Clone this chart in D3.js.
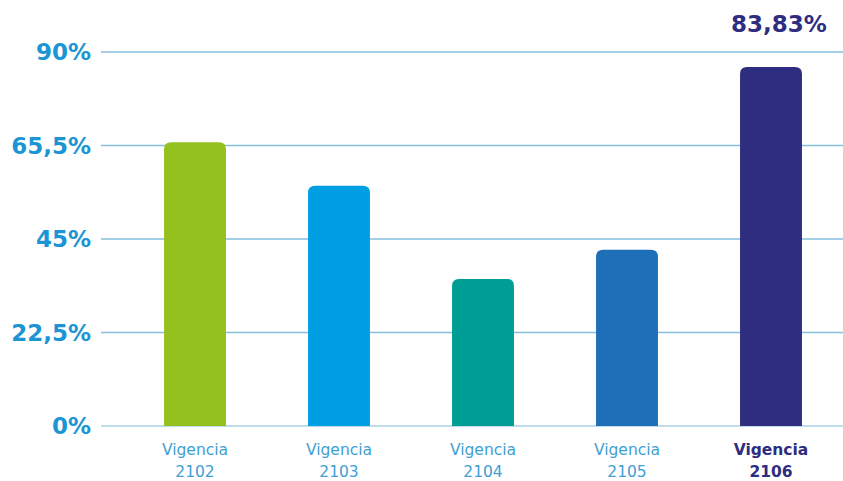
<!DOCTYPE html>
<html>
<head>
<meta charset="utf-8">
<script src="https://cdn.jsdelivr.net/npm/d3@7"></script>
<style>
  body { margin: 0; background: #fff; }
  svg { display: block; font-family: "DejaVu Sans", sans-serif; }
</style>
</head>
<body>
<svg id="chart" width="843" height="481"></svg>
<script>
// data
var categories = ['2102', '2103', '2104', '2105', '2106'];
var values = [68.3, 57.8, 35.4, 42.4, 86.4];
var barColors = ['#95c11f', '#009fe3', '#009d94', '#1d70b7', '#2e2d7f'];
var tickValues = [0, 22.5, 45, 67.5, 90];
var tickLabels = ['0%', '22,5%', '45%', '65,5%', '90%'];
var topLabel = '83,83%';

var svg = d3.select('#chart');
var margin = { top: 52, right: 0, bottom: 55, left: 101 };
var width = 843, height = 481;

var x = d3.scaleBand()
    .domain(categories)
    .range([123, 843])
    .paddingInner(0.57)
    .paddingOuter(0.285);

var y = d3.scaleLinear()
    .domain([0, 90])
    .range([426, margin.top]);

// grid lines
var grid = svg.append('g').attr('class', 'grid');
grid.selectAll('line').data(tickValues).enter().append('line')
    .attr('x1', margin.left).attr('x2', width)
    .attr('y1', function(d) { return y(d); })
    .attr('y2', function(d) { return y(d); })
    .style('stroke', function(d) { return d === 0 ? '#a9d0e6' : '#86bedc'; })
    .style('stroke-width', 1.5);

// y tick labels
var yAxis = svg.append('g').attr('class', 'y-axis');
yAxis.selectAll('text').data(tickValues).enter().append('text')
    .attr('x', 91)
    .attr('y', function(d) { return y(d) + 8; })
    .attr('text-anchor', 'end')
    .style('font-size', '23px')
    .style('font-weight', 700)
    .style('fill', '#1b95d4')
    .text(function(d, i) { return tickLabels[i]; });

// bars with rounded top
function barPath(d, i) {
    var x0 = x(d), w = x.bandwidth();
    var y0 = y(values[i]), y1 = y(0), r = 7;
    return 'M' + x0 + ',' + y1 +
        'V' + (y0 + r) +
        'Q' + x0 + ',' + y0 + ' ' + (x0 + r) + ',' + y0 +
        'H' + (x0 + w - r) +
        'Q' + (x0 + w) + ',' + y0 + ' ' + (x0 + w) + ',' + (y0 + r) +
        'V' + y1 + 'Z';
}

svg.append('g').attr('class', 'bars')
    .selectAll('path').data(categories).enter().append('path')
    .attr('d', barPath)
    .style('fill', function(d, i) { return barColors[i]; });

// category labels
var last = categories.length - 1;
var labels = svg.append('g').attr('class', 'x-labels')
    .selectAll('text').data(categories).enter().append('text')
    .attr('text-anchor', 'middle')
    .style('font-size', '15.5px')
    .style('font-weight', function(d, i) { return i === last ? 700 : 400; })
    .style('fill', function(d, i) { return i === last ? '#2e2d7f' : '#3f9fd4'; });
labels.append('tspan')
    .attr('x', function(d) { return x(d) + x.bandwidth() / 2; })
    .attr('y', 455)
    .text('Vigencia');
labels.append('tspan')
    .attr('x', function(d) { return x(d) + x.bandwidth() / 2; })
    .attr('y', 477)
    .text(function(d) { return d; });

// value label on the last bar
svg.append('text')
    .attr('x', x(categories[last]) + x.bandwidth() / 2 + 8)
    .attr('y', 32)
    .attr('text-anchor', 'middle')
    .style('font-size', '23px')
    .style('font-weight', 700)
    .style('fill', '#2e2d7f')
    .text(topLabel);
</script>
</body>
</html>
